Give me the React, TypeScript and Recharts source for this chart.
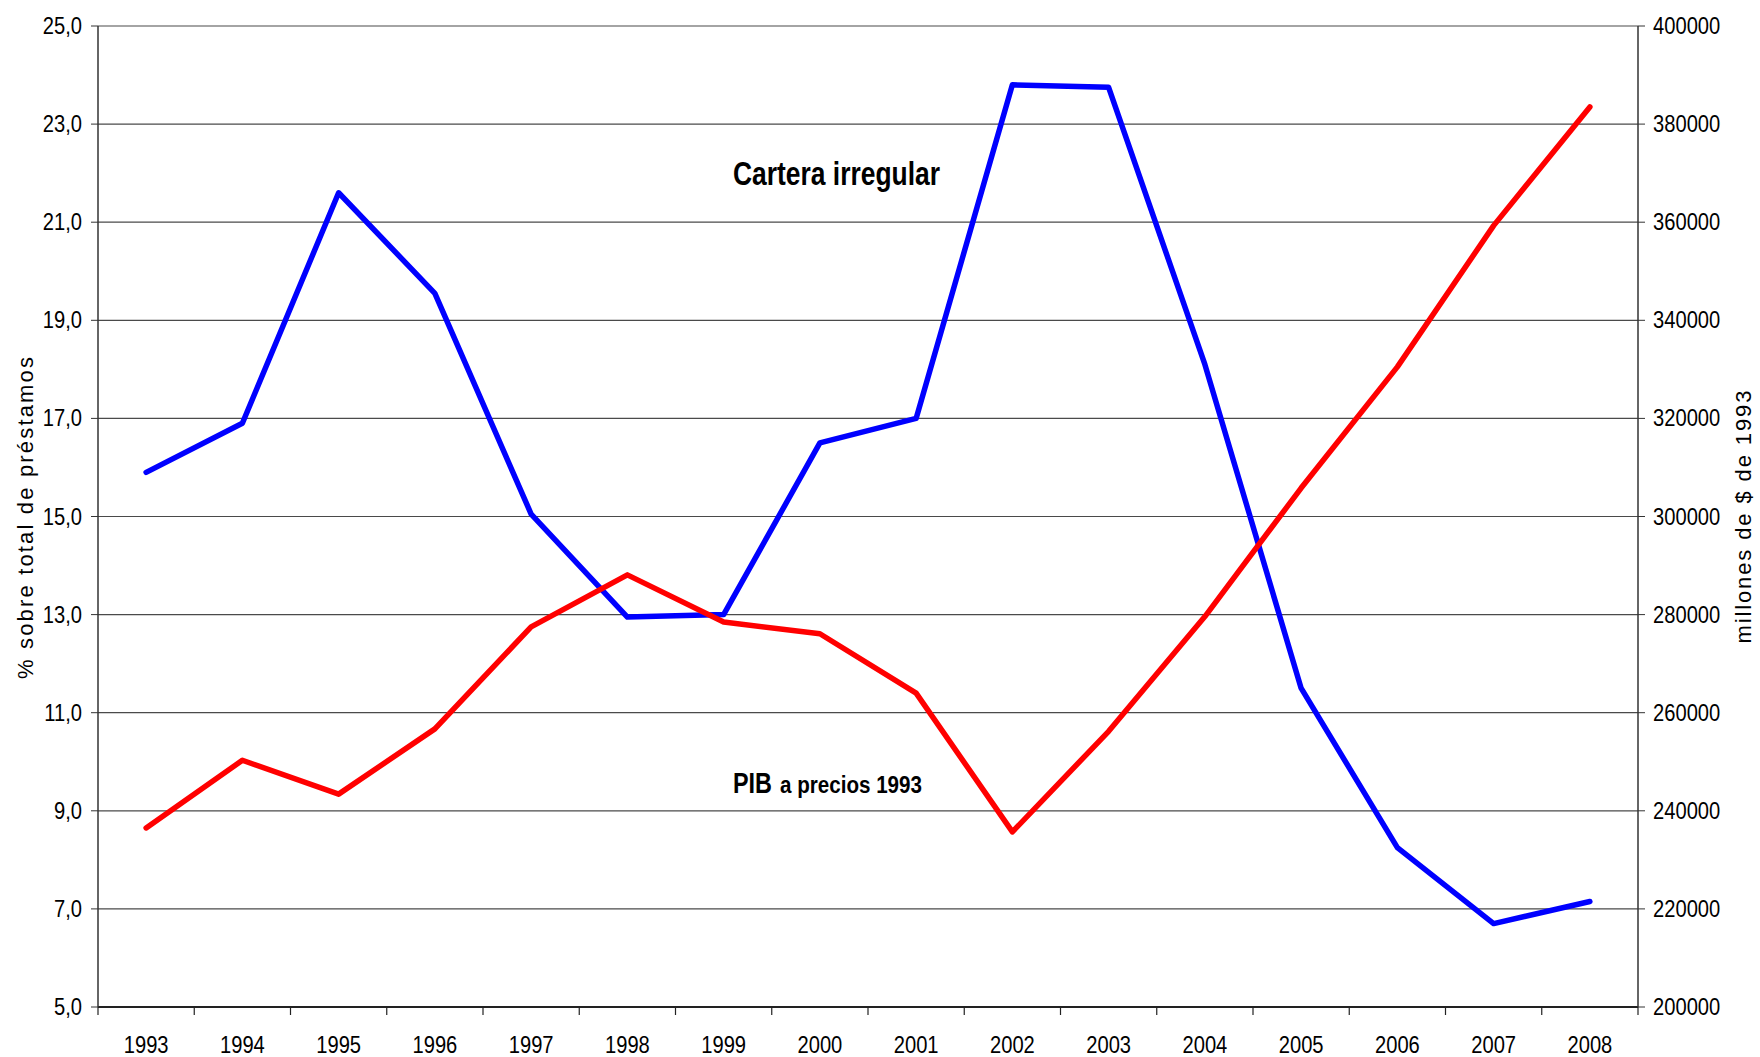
import React from 'react';
import { LineChart, Line, XAxis, YAxis, CartesianGrid } from 'recharts';

const years = ['1993', '1994', '1995', '1996', '1997', '1998', '1999', '2000', '2001', '2002', '2003', '2004', '2005', '2006', '2007', '2008'];
const carteraIrregular = [15.9, 16.9, 21.6, 19.55, 15.05, 12.95, 13.0, 16.5, 17.0, 23.8, 23.75, 18.1, 11.5, 8.25, 6.7, 7.15];
const pibPrecios1993 = [236500, 250300, 243400, 256700, 277500, 288100, 278500, 276100, 264000, 235700, 256200, 279600, 305800, 330500, 359300, 383500];
const leftTicks = [5, 7, 9, 11, 13, 15, 17, 19, 21, 23, 25];
const rightTicks = [200000, 220000, 240000, 260000, 280000, 300000, 320000, 340000, 360000, 380000, 400000];

const W = 1760;
const H = 1057;
const LEFT_W = 98;
const RIGHT_W = 122;
const TOP = 26;
const XAXIS_H = 50;
const BAND = (W - LEFT_W - RIGHT_W) / years.length;

const FONT = '"Liberation Sans", Arial, sans-serif';
const SQUEEZE = 0.84;

const data = years.map((y, i) => ({ year: y, cartera: carteraIrregular[i], pib: pibPrecios1993[i] }));

// narrow text, like Arial Narrow in the original
const NarrowText = ({ x, y, anchor, children, size = 24, bold = false }: any) => (
  <g transform={`translate(${x},${y}) scale(${SQUEEZE},1)`}>
    <text x={0} y={0} textAnchor={anchor} fill="#000" fontSize={size} fontWeight={bold ? 'bold' : 'normal'} fontFamily={FONT}>
      {children}
    </text>
  </g>
);

const YearTick = (props: any) => {
  const { x, y, payload, index } = props;
  const last = index === years.length - 1;
  return (
    <g>
      <line x1={x - BAND / 2} x2={x - BAND / 2} y1={y} y2={y + 8} stroke="#222" strokeWidth={1.2} />
      {last && <line x1={x + BAND / 2} x2={x + BAND / 2} y1={y} y2={y + 8} stroke="#222" strokeWidth={1.2} />}
      <NarrowText x={x} y={y + 46} anchor="middle">{payload.value}</NarrowText>
    </g>
  );
};

const LeftTick = (props: any) => {
  const { x, y, payload } = props;
  return (
    <NarrowText x={x} y={y + 8} anchor="end">
      {Number(payload.value).toFixed(1).replace('.', ',')}
    </NarrowText>
  );
};

const RightTick = (props: any) => {
  const { x, y, payload } = props;
  return (
    <NarrowText x={x} y={y + 8} anchor="start">
      {payload.value}
    </NarrowText>
  );
};

export default function App() {
  return (
    <div style={{ position: 'absolute', left: 0, top: 0, width: W, height: H, background: '#fff' }}>
      <LineChart width={W} height={H} data={data} margin={{ top: TOP, right: 0, bottom: 0, left: 0 }}>
        <CartesianGrid vertical={false} stroke="#4a4a4a" strokeWidth={1.2} yAxisId="left" />
        <XAxis
          dataKey="year"
          height={XAXIS_H}
          padding={{ left: BAND / 2, right: BAND / 2 }}
          tickSize={0}
          tickMargin={0}
          tickLine={false}
          interval={0}
          axisLine={{ stroke: '#222', strokeWidth: 2 }}
          tick={<YearTick />}
        />
        <YAxis
          yAxisId="left"
          width={LEFT_W}
          domain={[5, 25]}
          ticks={leftTicks}
          interval={0}
          tickSize={7}
          tickMargin={9}
          axisLine={{ stroke: '#333', strokeWidth: 1.5 }}
          tickLine={{ stroke: '#333' }}
          tick={<LeftTick />}
        />
        <YAxis
          yAxisId="right"
          orientation="right"
          width={RIGHT_W}
          domain={[200000, 400000]}
          ticks={rightTicks}
          interval={0}
          tickSize={7}
          tickMargin={8}
          axisLine={{ stroke: '#333', strokeWidth: 1.5 }}
          tickLine={{ stroke: '#333' }}
          tick={<RightTick />}
        />
        <Line
          yAxisId="left"
          type="linear"
          dataKey="cartera"
          stroke="#0000ff"
          strokeWidth={5.5}
          strokeLinecap="round"
          strokeLinejoin="round"
          dot={false}
          activeDot={false}
          isAnimationActive={false}
        />
        <Line
          yAxisId="right"
          type="linear"
          dataKey="pib"
          stroke="#ff0000"
          strokeWidth={5.5}
          strokeLinecap="round"
          strokeLinejoin="round"
          dot={false}
          activeDot={false}
          isAnimationActive={false}
        />
      </LineChart>
      <svg width={W} height={H} style={{ position: 'absolute', left: 0, top: 0, pointerEvents: 'none' }}>
        <text x={733} y={185} fontSize={34} fontWeight="bold" fontFamily={FONT} fill="#000" textLength={207} lengthAdjust="spacingAndGlyphs">
          Cartera irregular
        </text>
        <text x={733} y={793} fontSize={29} fontWeight="bold" fontFamily={FONT} fill="#000" textLength={39} lengthAdjust="spacingAndGlyphs">
          PIB
        </text>
        <text x={780} y={793} fontSize={23} fontWeight="bold" fontFamily={FONT} fill="#000" textLength={142} lengthAdjust="spacingAndGlyphs">
          a precios 1993
        </text>
        <text
          x={25}
          y={518}
          transform="rotate(-90, 25, 518)"
          textAnchor="middle"
          dominantBaseline="central"
          fontSize={22}
          fontFamily={FONT}
          fill="#000"
          textLength={322}
          lengthAdjust="spacing"
        >
          % sobre total de préstamos
        </text>
        <text
          x={1743}
          y={517}
          transform="rotate(-90, 1743, 517)"
          textAnchor="middle"
          dominantBaseline="central"
          fontSize={22}
          fontFamily={FONT}
          fill="#000"
          textLength={253}
          lengthAdjust="spacing"
        >
          millones de $ de 1993
        </text>
      </svg>
    </div>
  );
}
